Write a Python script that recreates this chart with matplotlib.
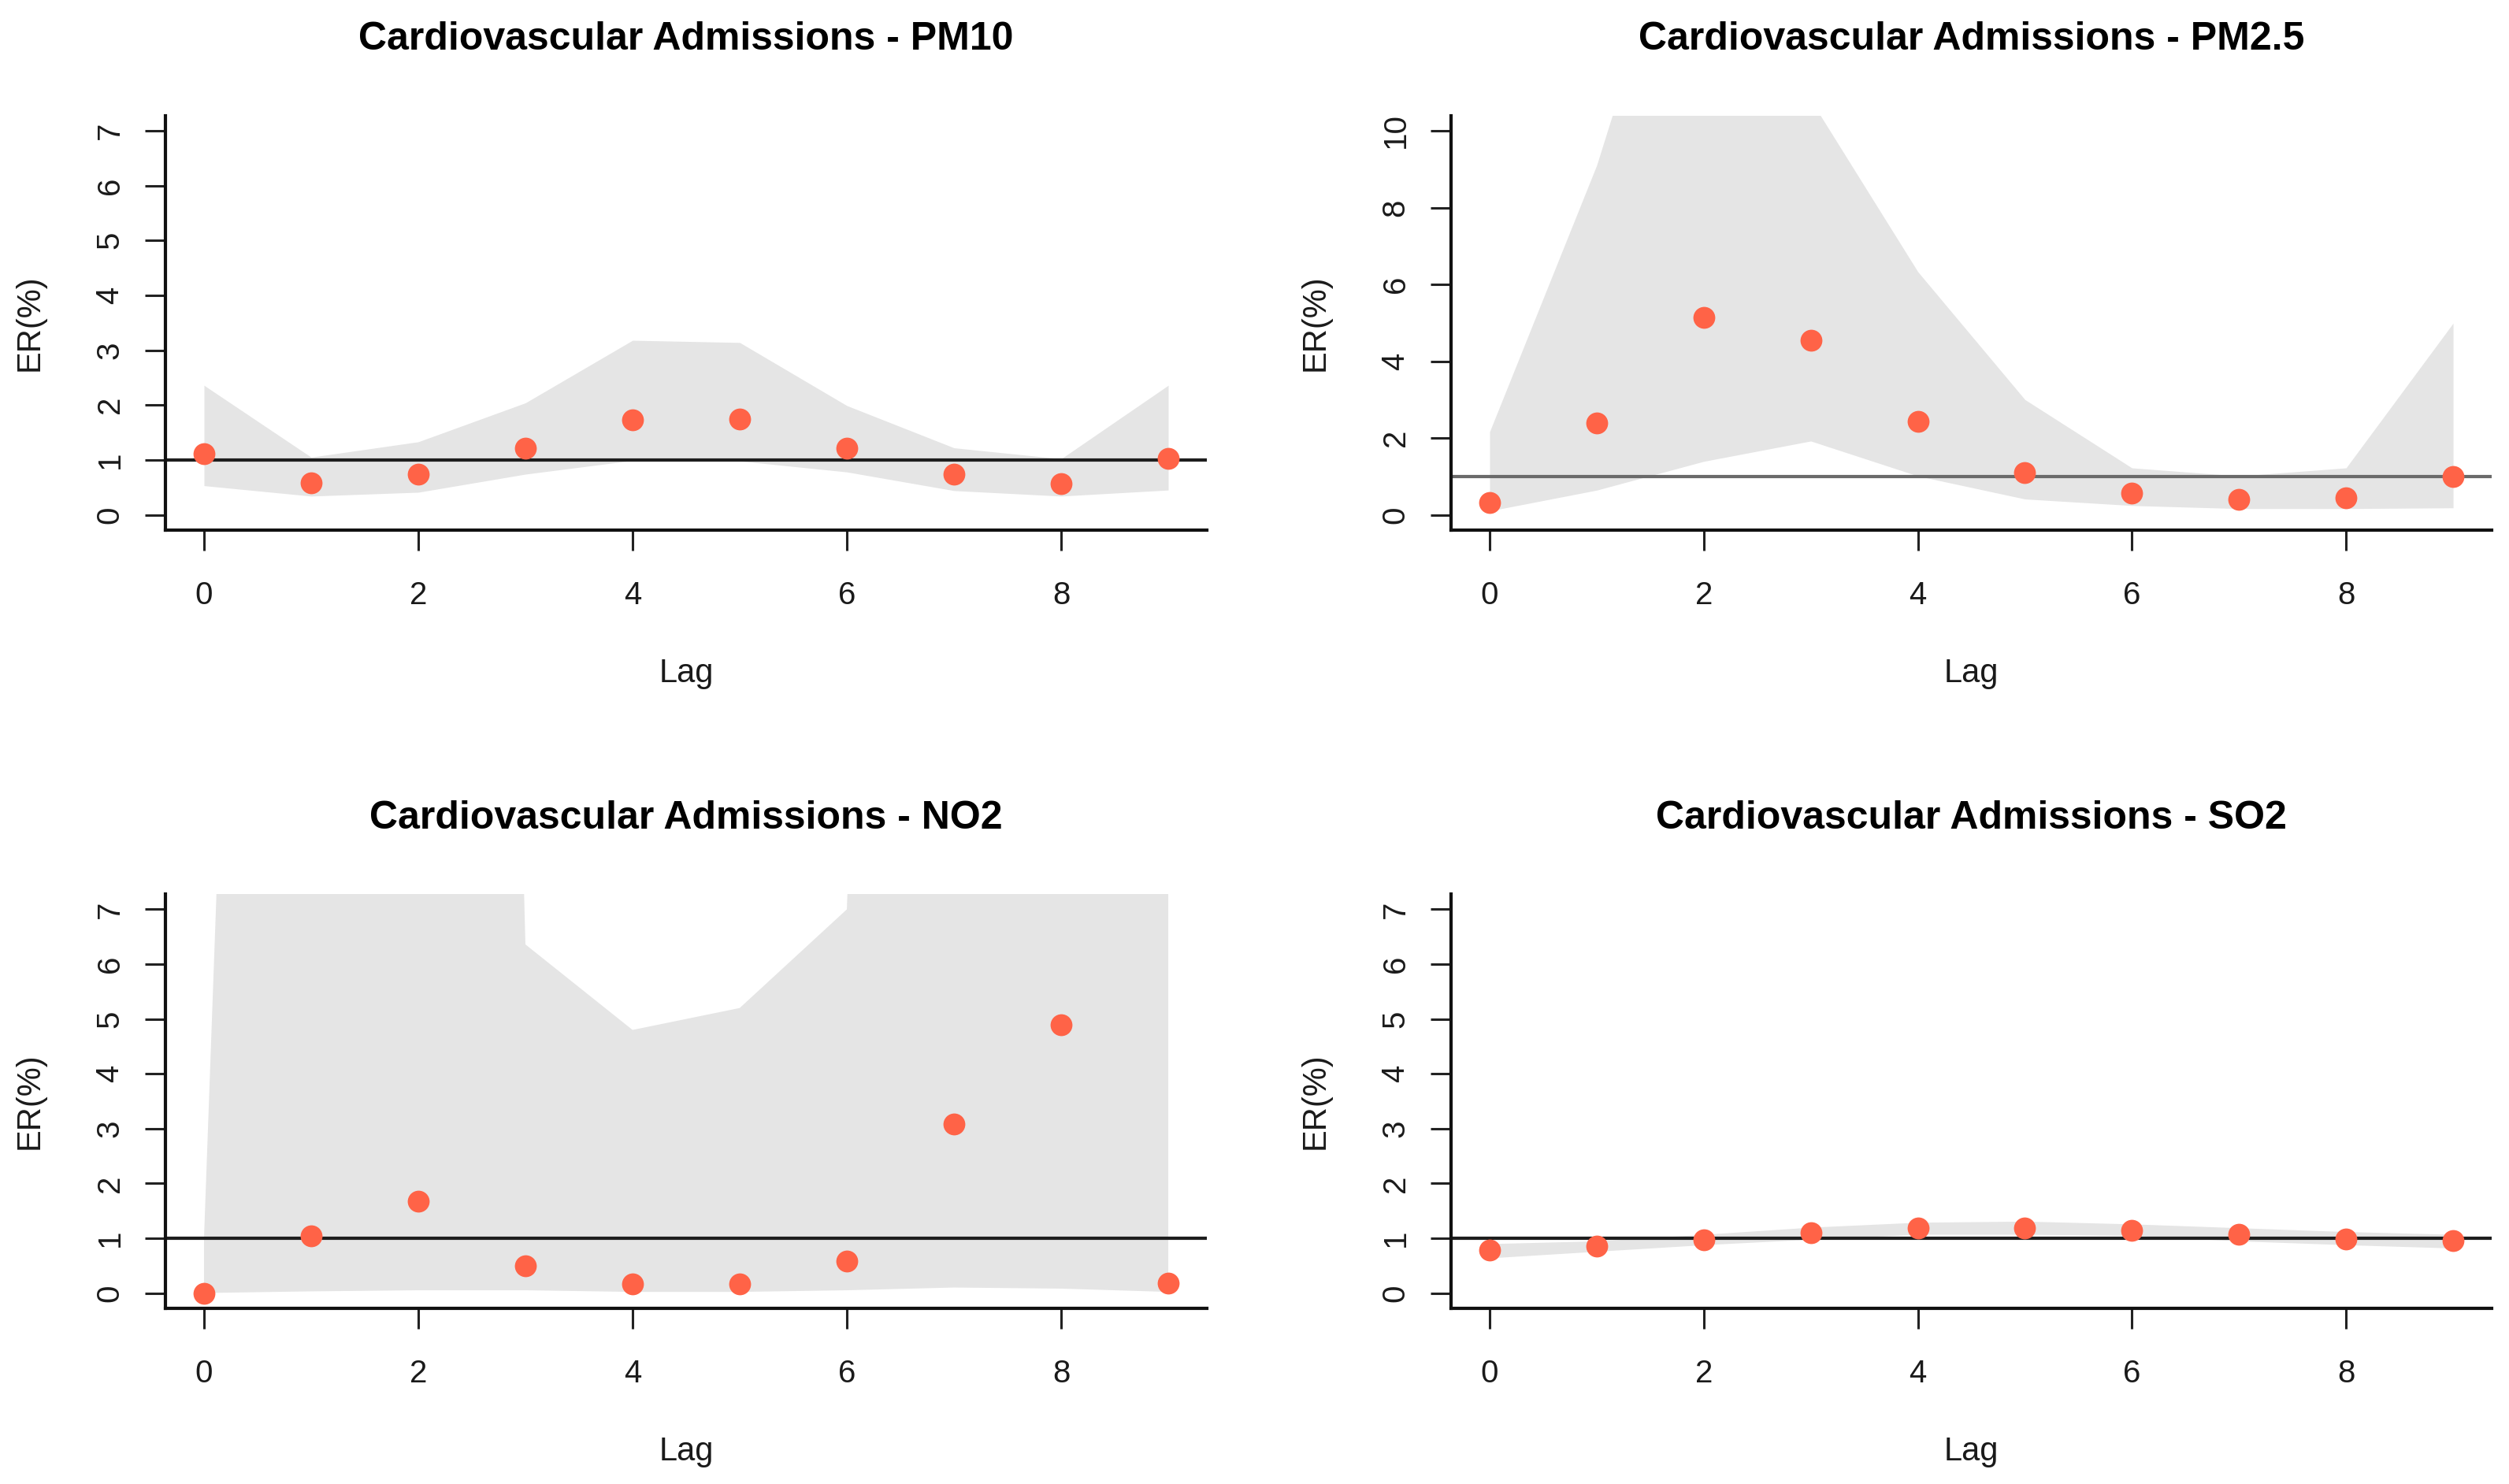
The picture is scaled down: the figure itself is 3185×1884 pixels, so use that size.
import numpy as np
import matplotlib
matplotlib.use("Agg")
import matplotlib.pyplot as plt

plt.rcParams['font.family'] = ['Liberation Sans', 'DejaVu Sans']

# lag days
lags = np.arange(10)

# ER(%) estimates and confidence bands
pm10_er = [1.11, 0.58, 0.74, 1.21, 1.73, 1.74, 1.22, 0.74, 0.57, 1.03]
pm10_lo = [0.53, 0.34, 0.41, 0.74, 0.99, 0.98, 0.78, 0.44, 0.34, 0.45]
pm10_hi = [2.36, 1.05, 1.33, 2.04, 3.18, 3.14, 1.99, 1.22, 1.02, 2.36]

pm25_er = [0.31, 2.38, 5.13, 4.54, 2.43, 1.09, 0.57, 0.39, 0.45, 1.00]
pm25_lo = [0.10, 0.64, 1.39, 1.92, 1.01, 0.41, 0.24, 0.16, 0.16, 0.18]
pm25_hi = [2.16, 9.10, 18.0, 10.8, 6.33, 3.00, 1.22, 1.01, 1.22, 4.99]

no2_er = [0.00, 1.04, 1.68, 0.49, 0.16, 0.16, 0.58, 3.09, 4.89, 0.18]
no2_lo = [0.00, 0.03, 0.05, 0.05, 0.02, 0.02, 0.05, 0.10, 0.08, 0.02]
no2_hi = [1.00, 55.0, 80.0, 6.36, 4.80, 5.20, 7.00, 60.0, 60.0, 50.0]

so2_er = [0.78, 0.86, 0.97, 1.10, 1.18, 1.19, 1.14, 1.07, 0.99, 0.95]
so2_lo = [0.64, 0.76, 0.88, 0.98, 1.07, 1.07, 1.05, 0.95, 0.88, 0.82]
so2_hi = [0.90, 0.95, 1.07, 1.20, 1.29, 1.31, 1.26, 1.19, 1.12, 1.07]

titles = ["Cardiovascular Admissions - PM10", "Cardiovascular Admissions - PM2.5",
          "Cardiovascular Admissions - NO2", "Cardiovascular Admissions - SO2"]

panels = [
    (pm10_er, pm10_lo, pm10_hi, 7, 1, '#1e1e1e'),
    (pm25_er, pm25_lo, pm25_hi, 10, 2, '#6a6a6a'),
    (no2_er, no2_lo, no2_hi, 7, 1, '#1e1e1e'),
    (so2_er, so2_lo, so2_hi, 7, 1, '#1e1e1e'),
]

W, H = 3185, 1884
fig = plt.figure(figsize=(W / 100, H / 100), dpi=100)

# axes boxes in pixels: left, top, right, bottom
boxes = [
    (210, 146.5, 1532, 673),
    (1842, 146.5, 3163, 673),
    (210, 1135, 1532, 1661),
    (1842, 1135, 3163, 1661),
]

for (er, lo, hi, ymax, ystep, refcol), title, (l, t, r, b) in zip(panels, titles, boxes):
    ax = fig.add_axes([l / W, 1 - b / H, (r - l) / W, (b - t) / H])
    pad = ymax * 0.04
    ax.fill_between(lags, lo, hi, color='#e5e5e5', linewidth=0, zorder=1)
    ax.axhline(1, color=refcol, linewidth=3.0, zorder=2)
    ax.plot(lags, er, 'o', color='#ff6347', markersize=20, markeredgewidth=0, zorder=3)

    ax.set_xlim(-0.36, 9.36)
    ax.set_ylim(-pad, ymax + pad)
    ax.set_xticks([0, 2, 4, 6, 8])
    ax.set_yticks(np.arange(0, ymax + 1, ystep))

    for s in ['top', 'right']:
        ax.spines[s].set_visible(False)
    for s in ['left', 'bottom']:
        ax.spines[s].set_linewidth(3.0)
        ax.spines[s].set_color('#111111')

    ax.tick_params(axis='both', direction='out', length=19, width=2.2, color='#222222',
                   labelsize=29, labelcolor='#1a1a1a')
    ax.tick_params(axis='x', pad=27)
    ax.tick_params(axis='y', pad=18, labelrotation=90)
    for lab in ax.get_yticklabels():
        lab.set_va('center')

    ax.set_title(title, fontsize=36, fontweight='bold', pad=60)
    ax.annotate('Lag', xy=(0.5, 0), xycoords='axes fraction', xytext=(0, -131),
                textcoords='offset points', ha='center', va='center', fontsize=30,
                color='#1a1a1a')
    ax.annotate('ER(%)', xy=(0, 0.5), xycoords='axes fraction', xytext=(-124, 0),
                textcoords='offset points', ha='center', va='center', fontsize=30,
                rotation=90, color='#1a1a1a')

fig.savefig('out.png', dpi=100, facecolor='white')
